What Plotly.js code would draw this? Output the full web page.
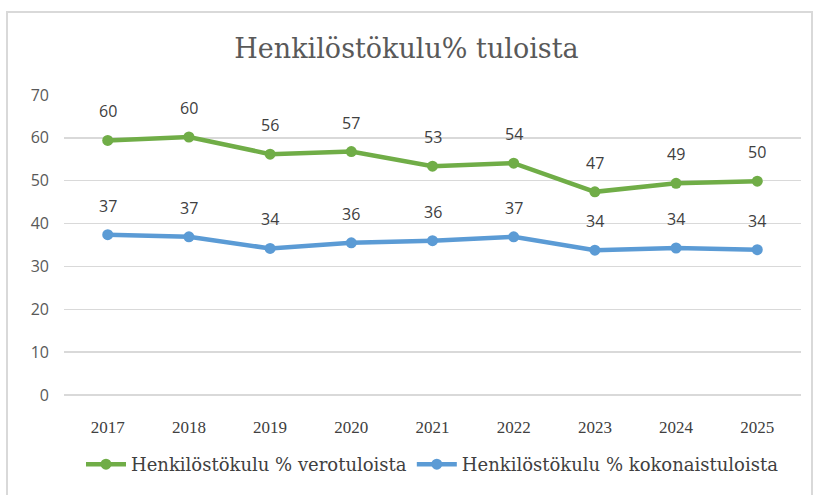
<!DOCTYPE html>
<html>
<head>
<meta charset="utf-8">
<script src="https://cdn.plot.ly/plotly-3.0.1.min.js"></script>
<style>
  body { margin: 0; background: #fff; }
  #frame { position: absolute; left: 6px; top: 11px; width: 803px; height: 520px; border: 2px solid #d9d9d9; }
  #chart { position: absolute; left: 0; top: 0; width: 813px; height: 495px; }
</style>
</head>
<body>
<div id="frame"></div>
<div id="chart"></div>
<script>
// years on the x axis
var years = ['2017', '2018', '2019', '2020', '2021', '2022', '2023', '2024', '2025'];

// personnel costs as % of tax revenue
var veroValues = [59.4, 60.2, 56.2, 56.8, 53.4, 54.1, 47.4, 49.4, 49.9];
var veroLabels = ['60', '60', '56', '57', '53', '54', '47', '49', '50'];

// personnel costs as % of total revenue
var kokoValues = [37.4, 36.9, 34.2, 35.5, 36.0, 36.9, 33.8, 34.3, 33.9];
var kokoLabels = ['37', '37', '34', '36', '36', '37', '34', '34', '34'];

var green = '#70ad47';
var blue = '#5b9bd5';
var serif = 'Liberation Serif, DejaVu Serif, serif';
var wideSerif = 'DejaVu Serif, Liberation Serif, serif';
var sans = 'Open Sans, Liberation Sans, sans-serif';

var veroTrace = {
  x: years,
  y: veroValues,
  type: 'scatter',
  mode: 'lines+markers',
  name: 'Henkilöstökulu % verotuloista',
  line: { color: green, width: 4.5 },
  marker: { color: green, size: 11 }
};

var kokoTrace = {
  x: years,
  y: kokoValues,
  type: 'scatter',
  mode: 'lines+markers',
  name: 'Henkilöstökulu % kokonaistuloista',
  line: { color: blue, width: 4.5 },
  marker: { color: blue, size: 11 }
};

// data labels above every point (category axis -> x is the category index)
var labels = [];
function addLabels(values, texts) {
  for (let i = 0; i < values.length; i++) {
    labels.push({
      x: i,
      y: values[i],
      text: texts[i],
      showarrow: false,
      yshift: 29,
      font: { family: sans, size: 16, color: '#404040' }
    });
  }
}
addLabels(veroValues, veroLabels);
addLabels(kokoValues, kokoLabels);

var layout = {
  width: 813,
  height: 495,
  margin: { l: 64, r: 12, t: 95, b: 98 },
  paper_bgcolor: 'rgba(0,0,0,0)',
  plot_bgcolor: 'rgba(0,0,0,0)',
  title: {
    text: 'Henkilöstökulu% tuloista',
    font: { family: wideSerif, size: 27, color: '#595959' },
    x: 0.5,
    xanchor: 'center',
    y: 0.901,
    yanchor: 'middle'
  },
  showlegend: true,
  legend: {
    orientation: 'h',
    x: 0.5,
    xanchor: 'center',
    y: -0.17,
    yanchor: 'top',
    font: { family: wideSerif, size: 18, color: '#404040' },
    itemwidth: 40,
    tracegroupgap: 0
  },
  xaxis: {
    type: 'category',
    showgrid: false,
    zeroline: false,
    showline: false,
    ticks: '',
    tickfont: { family: serif, size: 17, color: '#404040' },
    ticklabelstandoff: 20
  },
  yaxis: {
    range: [0, 70],
    dtick: 10,
    showgrid: true,
    gridcolor: '#d9d9d9',
    gridwidth: 1.5,
    zeroline: true,
    zerolinecolor: '#d9d9d9',
    zerolinewidth: 1.5,
    showline: false,
    ticks: '',
    tickfont: { family: sans, size: 16, color: '#595959' },
    ticklabelstandoff: 14
  },
  annotations: labels
};

Plotly.newPlot('chart', [veroTrace, kokoTrace], layout, { displayModeBar: false, staticPlot: true });
</script>
</body>
</html>
